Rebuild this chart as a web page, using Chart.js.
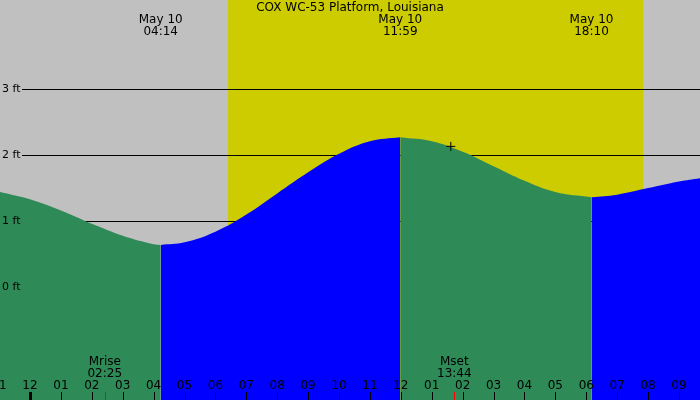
<!DOCTYPE html>
<html><head><style>body{margin:0;background:#c0c0c0}</style>
<script src="https://cdn.jsdelivr.net/npm/chart.js@4"></script></head>
<body><div style="width:700px;height:400px"><canvas id="c"></canvas></div>
<script>
const fall1=[[-0.97,1.44],[0,1.33],[1,1.16],[2,0.96],[3,0.78],[4,0.65],[4.23,0.64]];
const rise1=[[4.23,0.64],[5,0.68],[6,0.84],[7,1.10],[8,1.42],[9,1.74],[10,2.02],[11,2.21],[11.98,2.27]];
const fall2=[[11.98,2.27],[13,2.21],[14,2.05],[15,1.83],[16,1.61],[17,1.44],[18.17,1.36]];
const rise2=[[18.17,1.36],[19,1.40],[20,1.50],[21,1.60],[21.68,1.65]];
const hourLabels=['11','12','01','02','03','04','05','06','07','08','09','10','11','12','01','02','03','04','05','06','07','08','09'];
const ftLabels=['0 ft','1 ft','2 ft','3 ft'];
const extremes=[{h:4.23,t:'04:14'},{h:11.98,t:'11:59'},{h:18.17,t:'18:10'}];
const moon=[{h:2.42,n:'Mrise',t:'02:25'},{h:13.73,n:'Mset',t:'13:44'}];
const daylight=[6.41,19.84];
const nowPt=[13.6,2.14];
const title='COX WC-53 Platform, Louisiana';
const mk=(d,c)=>({data:d.map(p=>({x:p[0],y:p[1]})),backgroundColor:c,borderWidth:0,pointRadius:0,fill:'start',tension:0.4});
const bg={id:'bg',beforeDatasetsDraw(ch){const {ctx}=ch,x=ch.scales.x,y=ch.scales.y;
 ctx.save();ctx.fillStyle='#c0c0c0';ctx.fillRect(0,0,700,400);
 ctx.fillStyle='#cccc00';ctx.fillRect(x.getPixelForValue(daylight[0]),0,x.getPixelForValue(daylight[1])-x.getPixelForValue(daylight[0]),400);
 ctx.strokeStyle='#000';ctx.lineWidth=1;
 for(let i=1;i<=3;i++){const py=Math.round(y.getPixelForValue(i))+0.5;ctx.beginPath();ctx.moveTo(22,py);ctx.lineTo(700,py);ctx.stroke();}
 ctx.restore();},
 afterDatasetsDraw(ch){const {ctx}=ch,x=ch.scales.x,y=ch.scales.y;ctx.save();
 ctx.fillStyle='#000';ctx.font='12px "DejaVu Sans"';ctx.textAlign='center';ctx.textBaseline='middle';
 ctx.fillText(title,350,8);
 extremes.forEach(e=>{const px=x.getPixelForValue(e.h);ctx.fillText('May 10',px,20);ctx.fillText(e.t,px,32);});
 ctx.font='11px "DejaVu Sans"';ctx.textAlign='left';
 ftLabels.forEach((l,i)=>ctx.fillText(l,2,y.getPixelForValue(i)));
 ctx.font='12px "DejaVu Sans"';ctx.textAlign='center';
 moon.forEach(m=>{const px=x.getPixelForValue(m.h);ctx.fillText(m.n,px,362);ctx.fillText(m.t,px,374);
  ctx.strokeStyle='#ff0000';ctx.beginPath();ctx.moveTo(Math.round(px)+0.5,392);ctx.lineTo(Math.round(px)+0.5,400);ctx.stroke();});
 hourLabels.forEach((l,i)=>{const h=i-1,px=x.getPixelForValue(h);ctx.fillStyle='#000';ctx.fillText(l,px,386);
  ctx.strokeStyle='#000';ctx.lineWidth=(h%12===0&&h%24===0)?3:1;ctx.beginPath();ctx.moveTo(Math.round(px)+0.5,392);ctx.lineTo(Math.round(px)+0.5,400);ctx.stroke();});
 const nx=x.getPixelForValue(nowPt[0]),ny=y.getPixelForValue(nowPt[1]);ctx.lineWidth=1;ctx.strokeStyle='#000';
 ctx.beginPath();ctx.moveTo(nx-4,ny+0.5);ctx.lineTo(nx+5,ny+0.5);ctx.moveTo(nx+0.5,ny-4);ctx.lineTo(nx+0.5,ny+5);ctx.stroke();
 ctx.restore();}};
new Chart(document.getElementById('c'),{type:'line',
 data:{datasets:[mk(fall1,'#2e8b57'),mk(rise1,'#0000ff'),mk(fall2,'#2e8b57'),mk(rise2,'#0000ff')]},
 options:{responsive:true,maintainAspectRatio:false,animation:false,layout:{padding:0},
  plugins:{legend:{display:false},tooltip:{enabled:false}},
  scales:{x:{type:'linear',min:-0.97,max:21.68,display:false},y:{min:-1.71,max:4.35,display:false}}},
 plugins:[bg]});
</script></body></html>
